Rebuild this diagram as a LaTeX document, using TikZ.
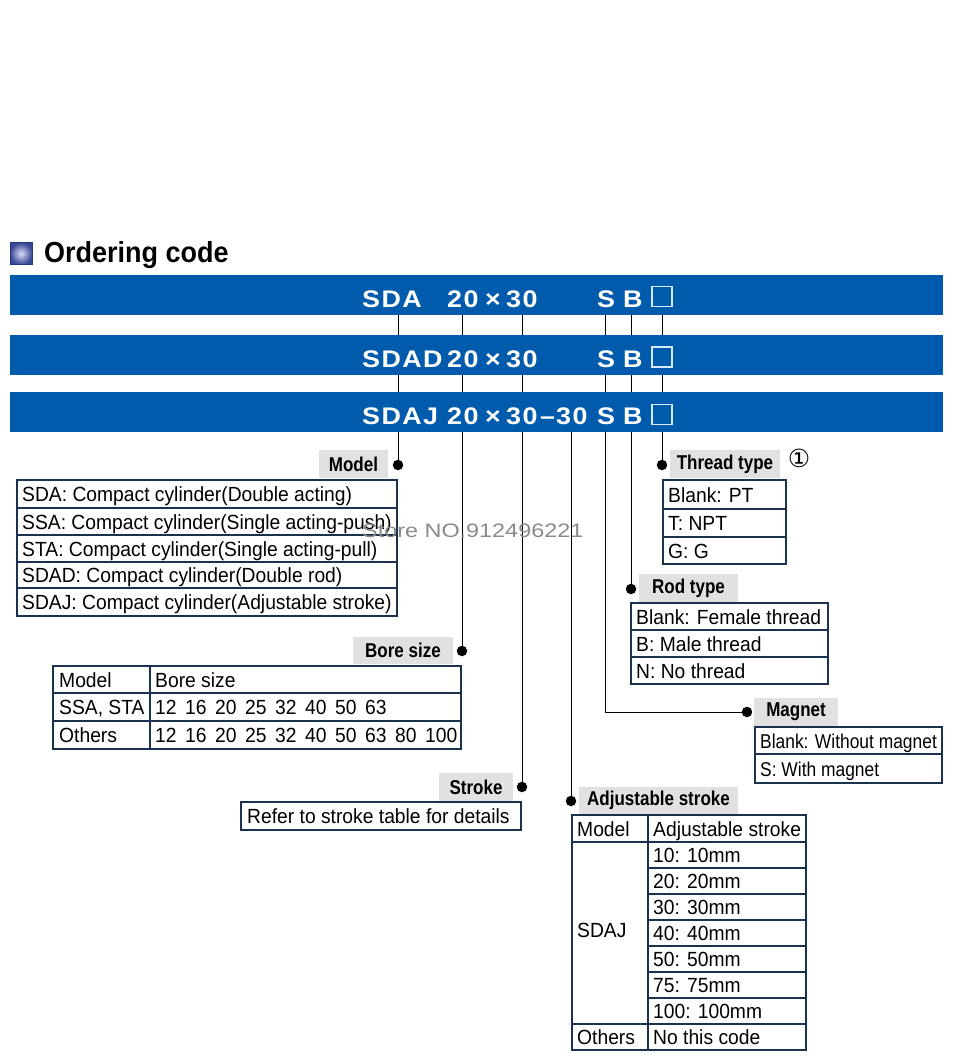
\documentclass[tikz,border=0pt]{standalone}
\usepackage{fontspec}
\setmainfont{Liberation Sans}
\newfontfamily\bodyfont{Liberation Sans}[FakeStretch=0.94]
\newfontfamily\narrowfont{Liberation Sans}[FakeStretch=0.87]
\newfontfamily\titlefont{Liberation Sans}[FakeStretch=0.93]
\newfontfamily\labfont{Liberation Sans}[FakeStretch=0.85]
\newfontfamily\barfont{Liberation Sans}[FakeStretch=1.12,LetterSpace=6]
\newfontfamily\wmfont{Liberation Sans}[FakeStretch=1.2]
\newfontfamily\symfont{DejaVu Sans}
\definecolor{barblue}{HTML}{005BAC}
\definecolor{labgray}{HTML}{E1E1E1}
\definecolor{tblc}{HTML}{1B3150}
\definecolor{sqc}{HTML}{D6EAFF}
\definecolor{wmc}{HTML}{8A8A8A}
\definecolor{iconin}{HTML}{DCDCF8}
\definecolor{iconout}{HTML}{374896}
\definecolor{iconedge}{HTML}{28377D}
\tikzset{
 bar/.style={fill=barblue, draw=none, minimum width=933, minimum height=40, inner sep=0},
 bartxt/.style={anchor=base west, inner sep=0, text=white, font=\barfont\bfseries\fontsize{24}{24}\selectfont},
 sqbox/.style={draw=sqc, line width=1.2, minimum size=20, inner sep=0},
 conn/.style={draw=black, line width=1},
 dot/.style={circle, fill=black, minimum size=10.5, inner sep=0},
 glabel/.style={fill=labgray, inner sep=0, font=\labfont\bfseries\fontsize{20}{20}\selectfont},
 tout/.style={draw=tblc, line width=2.2},
 tin/.style={draw=tblc, line width=1.1},
 cell/.style={anchor=west, inner sep=0, text height=15, text depth=0, font=\bodyfont\fontsize{20.5}{20.5}\selectfont},
}
\begin{document}
\begin{tikzpicture}[x=1pt,y=-1pt]
\useasboundingbox (0,0) rectangle (960,1061);
% title
\node[minimum size=22, inner sep=0, inner color=iconin, outer color=iconout, draw=iconedge] (icon) at (21,253.5) {};
\node[anchor=base west, inner sep=0, font=\titlefont\bfseries\fontsize{29}{29}\selectfont] (title) at (44,262) {Ordering code};
% connector top coordinates
\coordinate (tModel) at (398,315);
\coordinate (tBore) at (462,315);
\coordinate (tStroke) at (522,315);
\coordinate (tAdj) at (571,432);
\coordinate (tMag) at (605,315);
\coordinate (tRod) at (631,315);
\coordinate (tThr) at (662,315);
% dots
\node[dot] (dModel) at (398,465) {};
\node[dot] (dBore) at (462,651) {};
\node[dot] (dStroke) at (522,787) {};
\node[dot] (dAdj) at (571,801) {};
\node[dot] (dMag) at (747,712) {};
\node[dot] (dRod) at (631,589) {};
\node[dot] (dThr) at (662,465) {};
\draw[conn] (tModel) -- (dModel.center);
\draw[conn] (tBore) -- (dBore.center);
\draw[conn] (tStroke) -- (dStroke.center);
\draw[conn] (tAdj) -- (dAdj.center);
\draw[conn] (tMag) |- (dMag.center);
\draw[conn] (tRod) -- (dRod.center);
\draw[conn] (tThr) -- (dThr.center);
% bars
\node[bar] (bar1) at (476.5,295) {};
\node[bar] (bar2) at (476.5,355) {};
\node[bar] (bar3) at (476.5,412) {};
% bar 1 text
\node[bartxt] (b1a) at (362,307) {SDA};
\node[bartxt] (b1b) at (447,307) {20};
\node[bartxt] (b1c) at (485,307) {×};
\node[bartxt] (b1d) at (506,307) {30};
\node[bartxt] (b1e) at (597,307) {S};
\node[bartxt] (b1f) at (623,307) {B};
\node[sqbox] (b1g) at (662,296.5) {};
% bar 2 text
\node[bartxt] (b2a) at (362,367) {SDAD};
\node[bartxt] (b2b) at (447,367) {20};
\node[bartxt] (b2c) at (485,367) {×};
\node[bartxt] (b2d) at (506,367) {30};
\node[bartxt] (b2e) at (597,367) {S};
\node[bartxt] (b2f) at (623,367) {B};
\node[sqbox] (b2g) at (662,357) {};
% bar 3 text
\node[bartxt] (b3a) at (362,424.5) {SDAJ};
\node[bartxt] (b3b) at (447,424.5) {20};
\node[bartxt] (b3c) at (485,424.5) {×};
\node[bartxt] (b3d) at (506,424.5) {30};
\node[bartxt] (b3h) at (540,424.5) {–};
\node[bartxt] (b3i) at (556,424.5) {30};
\node[bartxt] (b3e) at (597,424.5) {S};
\node[bartxt] (b3f) at (623,424.5) {B};
\node[sqbox] (b3g) at (662,414.5) {};
% labels
\node[glabel, minimum width=69, minimum height=28] (lModel) at (353.5,464) {Model};
\node[glabel, minimum width=110, minimum height=28] (lThr) at (725,464) {Thread type};
\node[anchor=center, inner sep=0, font=\symfont\fontsize{25}{25}\selectfont] (circ1) at (799,458) {①};
\node[glabel, minimum width=99, minimum height=28] (lRod) at (688.5,588) {Rod type};
\node[glabel, minimum width=100, minimum height=27] (lBore) at (403,650.5) {Bore size};
\node[glabel, minimum width=84, minimum height=28] (lMag) at (796,712) {Magnet};
\node[glabel, minimum width=74, minimum height=29] (lStroke) at (476,787.5) {Stroke};
\node[glabel, minimum width=159, minimum height=27] (lAdj) at (658.5,800.5) {Adjustable stroke};
% model table
\draw[tin] (17,508) -- (397,508) (17,535) -- (397,535) (17,562) -- (397,562) (17,588) -- (397,588);
\draw[tout] (17,480) rectangle (397,616);
\node[cell] (m1) at (22,494) {SDA: Compact cylinder(Double acting)};
\node[cell] (m2) at (22,521.5) {SSA: Compact cylinder(Single acting-push)};
\node[cell] (m3) at (22,548.5) {STA: Compact cylinder(Single acting-pull)};
\node[cell] (m4) at (22,575) {SDAD: Compact cylinder(Double rod)};
\node[cell] (m5) at (22,602) {SDAJ: Compact cylinder(Adjustable stroke)};
% thread table
\draw[tin] (663,509) -- (786,509) (663,537) -- (786,537);
\draw[tout] (663,480) rectangle (786,564);
\node[cell] (t1) at (668,494.5) {Blank: PT};
\node[cell] (t2) at (668,523) {T: NPT};
\node[cell] (t3) at (668,550.5) {G: G};
% rod table
\draw[tin] (631,630) -- (828,630) (631,657) -- (828,657);
\draw[tout] (631,603) rectangle (828,684);
\node[cell] (r1) at (636,616.5) {Blank: Female thread};
\node[cell] (r2) at (636,643.5) {B: Male thread};
\node[cell] (r3) at (636,670.5) {N: No thread};
% bore table
\draw[tin] (53,693) -- (461,693) (53,721) -- (461,721);
\draw[tout] (150,666) -- (150,749);
\draw[tout] (53,666) rectangle (461,749);
\node[cell] (bh1) at (59,679.5) {Model};
\node[cell] (bh2) at (155,679.5) {Bore size};
\node[cell] (bs1) at (59,707) {SSA, STA};
\node[cell] (bo1) at (59,735) {Others};
\foreach \v [count=\i] in {12,16,20,25,32,40,50,63}
  \node[cell] (bs\i v) at ({125+30*\i},707) {\v};
\foreach \v [count=\i] in {12,16,20,25,32,40,50,63,80,100}
  \node[cell] (bo\i v) at ({125+30*\i},735) {\v};
% magnet table
\draw[tin] (755,754) -- (942,754);
\draw[tout] (755,727) rectangle (942,783);
\node[cell, font=\narrowfont\fontsize{20}{20}\selectfont] (g1) at (760,740.5) {Blank: Without magnet};
\node[cell, font=\narrowfont\fontsize{20}{20}\selectfont] (g2) at (760,768.5) {S: With magnet};
% stroke table
\draw[tout] (241,802) rectangle (521,830);
\node[cell] (s1) at (247,816) {Refer to stroke table for details};
% adjustable stroke table
\draw[tin] (648,868) -- (806,868) (648,894) -- (806,894) (648,920) -- (806,920) (648,946) -- (806,946) (648,972) -- (806,972) (648,998) -- (806,998);
\draw[tin] (572,842) -- (806,842) (572,1024) -- (806,1024);
\draw[tout] (648,815) -- (648,1050);
\draw[tout] (572,815) rectangle (806,1050);
\node[cell] (ah1) at (577,828.5) {Model};
\node[cell] (ah2) at (653,828.5) {Adjustable stroke};
\node[cell] (a0) at (577,930) {SDAJ};
\node[cell] (a1) at (653,855) {10: 10mm};
\node[cell] (a2) at (653,881) {20: 20mm};
\node[cell] (a3) at (653,907) {30: 30mm};
\node[cell] (a4) at (653,933) {40: 40mm};
\node[cell] (a5) at (653,959) {50: 50mm};
\node[cell] (a6) at (653,985) {75: 75mm};
\node[cell] (a7) at (653,1011) {100: 100mm};
\node[cell] (ao1) at (577,1037) {Others};
\node[cell] (ao2) at (653,1037) {No this code};
% watermark
\node[anchor=base west, inner sep=0, text=wmc, font=\wmfont\fontsize{19.5}{19.5}\selectfont] (wm) at (362,537) {Store NO.912496221};
\end{tikzpicture}
\end{document}
